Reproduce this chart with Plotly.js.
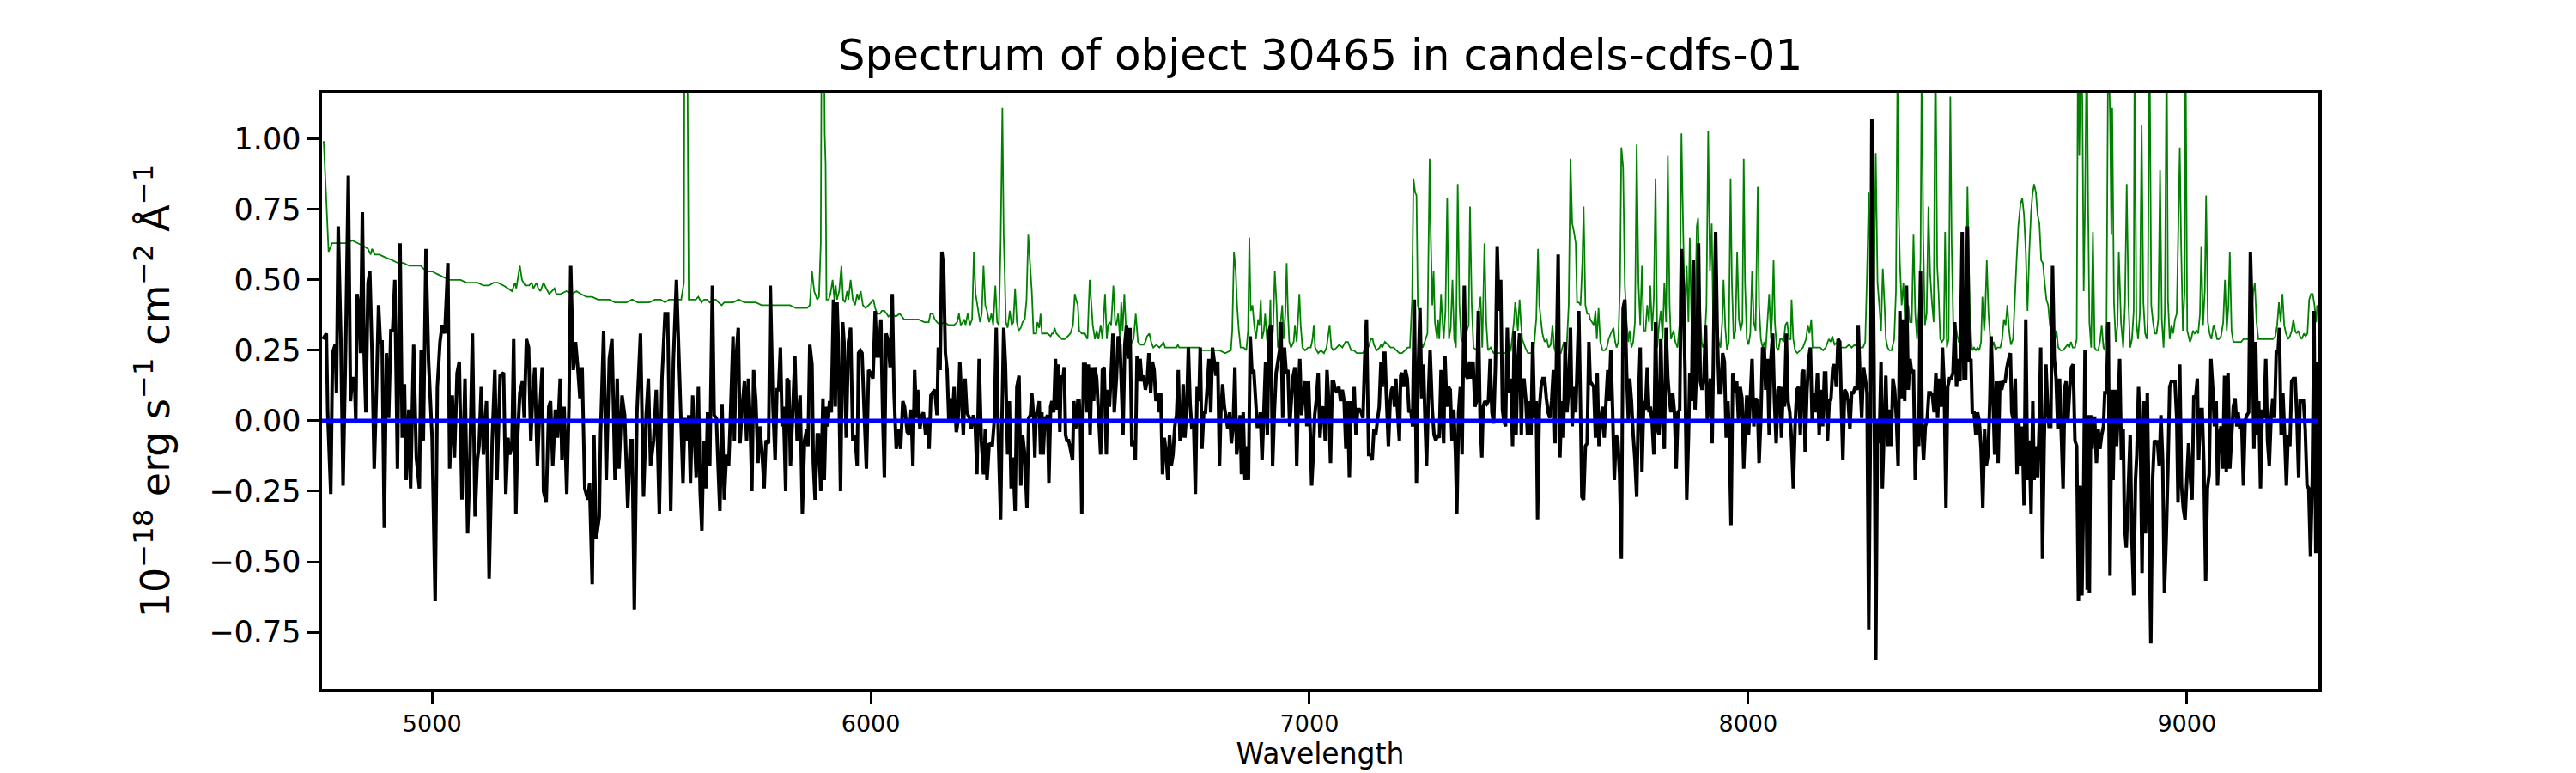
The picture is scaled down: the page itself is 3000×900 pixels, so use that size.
<!DOCTYPE html>
<html>
<head>
<meta charset="utf-8">
<script src="https://cdn.plot.ly/plotly-3.0.1.min.js"></script>
<style>html,body{margin:0;padding:0;background:#fff;}#chart{width:3000px;height:900px;}</style>
</head>
<body>
<div id="chart"></div>
<script>
// Object spectrum (black), wavelength in Angstrom, flux in 1e-18 erg/s/cm2/A
const fluxWave = [4751,4759,4762,4769,4773,4779,4782,4786,4792,4797,4803,4809,4814,4818,4823,4826,4829,4834,4837,4841,4845,4849,4854,4858,4863,4868,4873,4878,4882,4886,4891,4896,4901,4906,4910,4915,4921,4927,4932,4937,4941,4947,4951,4958,4964,4971,4975,4980,4986,4992,5000,5007,5012,5018,5023,5029,5036,5040,5046,5051,5057,5062,5068,5075,5081,5086,5092,5098,5103,5107,5112,5117,5124,5130,5137,5143,5148,5155,5163,5168,5173,5177,5182,5186,5191,5195,5200,5206,5210,5215,5220,5225,5229,5234,5240,5244,5251,5254,5260,5266,5270,5275,5281,5286,5292,5296,5301,5307,5312,5316,5322,5327,5332,5337,5342,5348,5355,5359,5365,5369,5374,5381,5384,5391,5397,5404,5410,5417,5422,5426,5433,5439,5446,5452,5456,5461,5467,5475,5482,5488,5493,5498,5505,5511,5518,5524,5531,5537,5544,5550,5557,
5572,5576,5580,5585,5589,5594,5598,5602,5607,5611,5615,5619,5624,5628,5633,5639,5643,5648,5652,5656,5661,5666,5671,5676,5680,5686,5689,5693,5698,5702,5706,5712,5717,5721,5725,5729,5733,5738,5743,5747,5752,5757,5761,5767,5771,5777,5782,5786,5790,5794,5798,5801,5806,5809,5813,5817,5822,5827,5832,5835,5839,5844,5849,5854,5857,5861,5866,5869,5873,5878,5881,5886,5891,5894,5898,5902,5906,5910,5915,5919,5923,5926,5931,5936,5939,5944,5949,5954,5959,5964,5969,5972,5976,5980,5985,5990,5995,5999,6005,6010,6014,6018,6023,6027,6031,6035,6040,6044,6049,6053,6058,6063,6068,6073,6077,6083,6088,6092,6096,6100,6104,6107,6112,6115,6120,6125,6130,6133,6137,6141,6146,6151,6154,6158,6162,6166,6170,6174,6178,6182,6186,6190,6195,6199,6203,6206,6211,6215,6219,6225,6229,6234,6238,6242,6247,6252,6257,6261,6265,6270,6277,6282,6286,6291,6296,6299,6303,6307,6312,6316,6320,6324,6329,6333,6338,6342,6346,6351,6356,6360,
6364,6367,6371,6374,6377,6380,6384,6387,6390,6393,6397,6400,6403,6406,6410,6413,6417,6421,6425,6428,6431,6434,6438,6441,6444,6447,6451,6455,6460,6463,6467,6472,6475,6478,6481,6485,6489,6493,6496,6500,6504,6508,6511,6515,6519,6524,6528,6532,6537,6540,6544,6548,6552,6555,6560,6564,6568,6571,6575,6579,6583,6587,6591,6595,6599,6603,6607,6611,6614,6618,6622,6626,6630,6634,6638,6642,6646,6650,6654,6658,6661,6665,6669,6673,6677,6681,6685,6689,6693,6697,6701,6705,6709,6712,6716,6720,6724,6728,6732,6736,6740,6744,6748,6751,6755,6759,6763,6767,6771,6775,6779,6783,6787,6791,6795,6798,6802,6806,6810,6814,6818,6822,6826,6830,6834,6838,6842,6845,6849,6853,6857,6861,6865,6869,6873,6877,6881,6885,6888,6892,6896,6900,6904,6908,6912,6916,6920,6924,6928,6932,6935,6939,6943,6947,6951,6955,6959,6963,6967,6971,6975,6978,6982,6986,6990,6994,6998,7002,7005,7008,7012,7016,7020,7024,7028,7032,7036,7040,7044,7048,7052,7055,7059,7063,7067,7071,7075,7079,7083,7087,7091,7095,7099,7102,7106,7110,7114,7118,7122,7126,7130,7135,7139,7143,7147,7151,7155,7159,7163,
7166,7169,7172,7175,7180,7184,7187,7190,7194,7197,7201,7205,7208,7211,7215,7219,7223,7227,7231,7235,7239,7244,7248,7252,7256,7260,7263,7267,7271,7275,7280,7284,7288,7292,7296,7300,7303,7306,7309,7313,7317,7321,7325,7329,7333,7336,7340,7344,7348,7353,7357,7361,7365,7369,7373,7377,7381,7385,7389,7393,7396,7400,7404,7408,7412,7416,7420,7424,7428,7432,7436,7440,7443,7447,7451,7455,7459,7463,7467,7471,7475,7479,7483,7485,7489,7493,7497,7501,7505,7509,7513,7517,7520,7524,7528,7532,7536,7540,7544,7548,7552,7556,7560,7563,7567,7571,7575,7579,7583,7587,7591,7595,7599,7603,7607,7610,7614,7618,7621,7625,7629,7633,7637,7640,7644,7648,7652,7656,7660,7664,7668,7672,7676,7680,7683,7687,7691,7695,7699,7703,7707,7711,7715,7719,7723,7727,7730,7734,7738,7742,7746,7750,7754,7758,7762,7766,7770,7774,7777,7781,7785,7789,7793,7797,7801,7805,7809,7813,7817,7821,7824,7828,7832,7836,7840,7844,7848,7852,7856,7860,7864,7867,7871,7875,7879,7883,7887,7891,7895,7899,7903,7907,7911,7914,7918,7922,7926,7930,7934,7938,7942,7946,7950,7954,7957,7961,7965,
7971,7974,7978,7982,7986,7990,7994,7997,8001,8005,8009,8013,8017,8021,8025,8029,8033,8037,8040,8044,8048,8052,8056,8060,8064,8068,8072,8076,8080,8083,8087,8091,8095,8099,8103,8107,8111,8115,8119,8123,8127,8130,8134,8138,8142,8146,8150,8154,8158,8162,8166,8170,8174,8177,8181,8185,8189,8193,8197,8201,8205,8209,8213,8216,8220,8224,8228,8232,8236,8240,8244,8248,8251,8256,8259,8263,8267,8271,8275,8279,8282,8287,8291,8295,8299,8303,8306,8310,8314,8318,8322,8326,8330,8334,8338,8342,8346,8350,8354,8357,8361,8365,8369,8373,8377,8381,8385,8389,8393,8397,8400,8404,8408,8412,8416,8420,8424,8428,8432,8436,8440,8443,8447,8451,8455,8459,8463,8467,8471,8475,8479,8483,8488,8492,8496,8500,8504,8508,8511,8515,8519,8523,8527,8531,8535,8539,8543,8547,8551,8554,8558,8562,8566,8570,8574,8578,8582,8586,8590,8594,8598,8601,8605,8609,8613,8617,8621,8625,8629,8633,8637,8641,8645,8649,8652,8656,8660,8664,8667,8671,8675,8679,8683,8686,8690,8694,8698,8702,8706,8710,8714,8718,8722,8725,8729,8733,8737,8741,8745,8749,8753,8757,8761,8765,8768,
8773,8776,8778,8781,8784,8786,8790,8794,8798,8802,8806,8810,8813,8817,8821,8825,8829,8832,8836,8840,8843,8847,8851,8855,8858,8862,8866,8871,8875,8879,8883,8886,8890,8894,8898,8902,8906,8910,8914,8918,8922,8926,8930,8933,8937,8941,8945,8949,8953,8957,8961,8965,8969,8973,8977,8980,8984,8988,8992,8996,9000,9004,9008,9012,9016,9020,9024,9027,9031,9035,9039,9043,9047,9051,9055,9059,9063,9067,9070,9074,9078,9082,9086,9090,9094,9098,9102,9106,9110,9114,9117,9121,9125,9129,9133,9137,9141,9145,9149,9153,9157,9161,9164,9168,9172,9176,9180,9184,9188,9192,9196,9200,9204,9208,9211,9215,9219,9223,9227,9231,9235,9239,9243,9247,9251,9255,9258,9262,9266,9270,9274,9278,9282,9286,9290,9294,9297];
const fluxValue = [0.29,0.31,0.03,-0.26,0.24,0.27,0.10,0.69,0.29,-0.23,0.26,0.87,0.07,0.15,0.15,0.00,0.45,0.39,0.24,0.74,0.24,0.03,0.49,0.53,0.24,-0.17,0.10,0.41,0.28,0.28,-0.38,0.24,0.01,0.32,0.32,0.50,-0.17,0.63,-0.06,0.13,-0.21,0.04,-0.24,0.27,-0.13,-0.24,0.25,-0.07,0.61,0.21,-0.06,-0.64,0.12,0.28,0.34,0.31,0.56,-0.17,0.09,-0.13,0.17,0.21,-0.28,0.15,-0.40,-0.15,0.31,-0.34,-0.14,-0.09,0.12,-0.12,0.07,-0.56,-0.07,0.18,-0.21,0.16,0.17,-0.26,-0.06,-0.12,-0.09,0.29,-0.33,-0.06,0.10,0.14,0.01,0.29,0.26,-0.07,0.08,0.19,-0.16,-0.01,0.19,-0.25,-0.29,0.05,0.07,-0.16,0.04,-0.06,0.15,-0.14,0.05,-0.26,0.05,0.55,0.18,0.28,0.19,0.08,0.19,-0.24,-0.28,-0.22,-0.58,-0.05,-0.42,-0.34,-0.05,0.32,-0.21,0.22,0.29,-0.21,0.15,-0.17,0.09,0.02,-0.31,-0.07,-0.07,-0.67,0.03,0.31,-0.27,0.02,0.15,-0.16,-0.07,0.11,-0.33,0.15,0.38,0.38,-0.32,0.21,0.50,
-0.22,0.01,-0.07,0.02,-0.22,0.09,-0.05,-0.20,0.12,-0.25,-0.39,-0.07,-0.24,0.03,-0.16,0.48,0.02,0.01,-0.16,-0.32,0.06,-0.28,-0.12,-0.16,0.01,0.30,-0.07,0.22,0.33,-0.08,0.03,0.14,-0.07,0.15,0.00,-0.25,0.18,0.07,-0.15,-0.02,-0.11,-0.24,-0.07,-0.08,0.48,0.05,-0.14,0.11,0.11,0.26,-0.02,0.05,-0.25,0.15,0.14,-0.16,0.03,0.23,-0.07,0.01,0.09,-0.33,-0.07,-0.03,-0.09,0.27,0.20,-0.15,-0.28,-0.05,-0.05,-0.25,0.08,-0.21,0.05,-0.02,0.07,0.03,0.43,0.05,0.42,0.28,-0.25,0.35,0.28,-0.06,0.28,0.33,-0.07,-0.05,-0.16,0.24,0.25,0.24,0.03,-0.17,0.18,0.17,0.15,0.39,0.23,0.23,0.36,0.03,-0.20,0.31,0.28,0.19,0.45,0.10,-0.10,-0.03,-0.10,0.07,0.05,-0.04,-0.05,0.04,-0.16,0.18,0.01,0.11,-0.03,0.01,0.03,-0.05,0.01,-0.10,0.09,0.10,0.11,0.02,0.26,0.18,0.60,0.55,0.24,0.18,0.00,0.08,0.00,0.12,-0.04,0.00,0.21,0.11,-0.05,0.15,0.03,0.01,-0.03,0.02,-0.01,-0.19,0.22,-0.07,-0.19,-0.03,-0.21,-0.08,-0.09,0.01,0.33,-0.07,-0.35,0.00,0.33,0.20,-0.12,0.07,-0.24,-0.13,-0.32,0.12,0.16,-0.23,-0.05,-0.12,-0.31,0.01,
0.02,0.10,0.02,-0.13,0.03,0.02,0.07,-0.12,0.03,-0.12,0.01,0.01,0.02,-0.22,0.05,0.07,0.03,0.22,0.04,0.20,-0.04,0.16,0.15,0.19,-0.05,-0.07,-0.07,-0.10,-0.14,0.07,-0.03,0.07,0.07,-0.03,-0.33,0.20,0.20,0.03,0.20,-0.05,0.19,0.07,0.19,0.15,0.03,-0.12,0.18,0.19,-0.12,0.11,0.05,0.17,0.31,0.03,0.15,0.30,0.27,0.14,-0.05,0.27,0.34,0.22,0.33,-0.09,-0.07,-0.14,0.23,0.14,0.22,0.14,0.16,0.11,0.14,0.24,0.10,0.21,0.18,0.07,0.10,0.03,0.10,-0.19,-0.06,-0.11,-0.21,-0.05,-0.16,-0.12,-0.02,0.02,0.18,-0.07,-0.05,0.13,-0.06,0.03,0.26,0.06,-0.03,-0.01,-0.26,0.12,0.07,0.26,-0.10,0.03,0.03,0.12,0.22,0.03,0.26,0.21,0.16,0.21,-0.16,0.03,0.13,0.05,0.01,-0.03,0.03,-0.08,-0.02,0.19,-0.12,-0.07,0.02,-0.19,0.03,-0.21,-0.09,-0.21,0.30,0.17,0.18,0.08,-0.02,-0.02,0.03,-0.14,0.03,0.21,-0.05,0.32,0.34,-0.16,0.03,0.17,0.21,0.25,0.35,0.01,0.26,0.17,0.18,-0.02,0.08,0.16,0.19,-0.16,0.10,0.22,0.02,0.10,0.14,-0.02,0.14,-0.05,-0.23,-0.14,0.02,0.08,0.17,-0.06,0.04,0.05,-0.07,0.18,0.07,-0.15,0.14,0.14,0.11,0.10,0.12,0.07,0.11,0.07,-0.10,0.07,-0.20,0.07,0.00,0.12,-0.05,0.04,0.04,0.03,0.01,0.22,0.36,-0.12,-0.12,-0.14,-0.03,-0.05,0.00,0.05,0.21,
0.12,0.24,0.24,0.10,-0.09,0.07,0.11,0.12,0.05,0.15,0.03,-0.07,0.16,0.17,0.12,0.18,0.15,0.03,0.04,-0.02,0.43,-0.22,0.18,0.40,0.08,0.20,0.03,-0.16,0.08,0.25,0.04,-0.05,-0.07,-0.05,-0.06,0.18,0.03,-0.08,0.23,0.05,0.12,0.11,-0.07,0.04,-0.12,-0.33,0.03,0.12,-0.12,0.48,0.16,0.15,0.21,0.15,0.21,0.05,0.07,0.39,0.01,-0.13,0.05,0.07,0.06,0.07,0.22,0.03,-0.01,0.20,0.62,0.39,0.50,0.04,0.00,-0.02,0.33,0.10,0.15,-0.09,0.32,-0.05,0.21,0.31,-0.05,0.10,0.15,0.08,-0.05,0.07,-0.05,0.28,0.01,0.07,-0.35,0.04,0.12,0.15,0.15,0.08,0.03,0.01,0.07,0.18,-0.08,0.22,0.59,-0.13,0.07,-0.06,0.28,0.03,0.11,0.33,-0.02,0.12,0.03,0.18,0.39,0.04,-0.27,-0.28,-0.09,-0.08,0.28,0.14,0.13,0.12,-0.06,0.17,-0.09,0.00,0.05,-0.06,0.07,0.18,0.07,0.25,0.04,-0.21,-0.05,-0.07,-0.19,-0.49,0.40,0.43,0.17,0.00,0.15,0.07,-0.05,-0.14,-0.27,0.07,0.26,-0.18,0.07,0.04,0.19,0.03,0.05,0.00,-0.12,0.35,-0.03,-0.05,0.29,0.00,-0.10,0.33,0.15,0.07,0.03,0.10,0.03,-0.17,0.03,0.04,0.61,0.48,0.19,-0.28,-0.06,0.17,0.07,0.57,0.04,0.21,0.63,0.14,0.11,0.15,0.34,0.00,0.07,0.15,-0.08,0.35,0.67,0.29,0.10,0.10,0.24,0.21,-0.06,0.07,-0.05,-0.37,0.17,
0.10,0.14,0.00,0.12,0.08,-0.17,0.00,0.09,-0.05,0.08,0.22,-0.02,0.08,0.07,-0.15,0.01,0.26,0.25,0.11,0.22,-0.05,0.22,0.31,0.07,-0.08,0.11,0.12,-0.06,0.12,0.05,0.31,0.07,0.03,-0.07,-0.24,-0.02,0.11,0.12,-0.05,0.17,0.18,-0.11,0.10,0.22,0.26,0.00,0.10,0.03,0.17,-0.05,0.11,-0.02,0.17,0.17,-0.07,0.07,0.08,0.19,0.20,0.12,0.29,0.28,0.03,-0.14,0.11,0.10,0.07,-0.03,0.10,0.10,0.12,0.11,0.34,0.11,0.01,0.19,0.15,0.10,-0.74,0.01,1.07,0.21,-0.85,0.00,-0.08,0.21,-0.24,-0.03,0.16,-0.09,0.04,-0.09,0.15,0.11,0.01,-0.16,0.39,0.08,0.36,0.07,0.48,0.11,0.22,0.17,0.18,-0.21,0.00,-0.09,0.53,-0.05,-0.14,-0.02,0.00,0.10,0.10,0.09,0.03,0.17,0.01,0.15,0.05,0.26,0.12,-0.31,0.12,0.15,0.15,0.17,0.35,0.12,0.22,0.14,0.67,0.15,0.15,0.69,0.21,0.22,0.03,0.03,-0.05,0.03,0.00,-0.10,-0.31,-0.03,-0.16,-0.12,0.07,0.30,0.10,-0.12,0.14,-0.15,0.14,0.11,0.14,0.14,0.19,0.22,0.24,0.03,0.00,0.15,-0.19,0.00,-0.16,-0.02,-0.30,0.36,-0.21,-0.07,-0.33,0.07,-0.21,-0.09,-0.20,0.00,0.26,-0.49,-0.07,0.20,0.04,-0.02,-0.02,0.55,0.22,0.15,-0.03,0.15,-0.05,-0.24,0.12,0.14,0.00,0.11,0.19,0.20,-0.07,-0.09,-0.64,-0.23,-0.62,-0.23,0.25,
-0.60,0.02,-0.61,0.02,-0.10,0.01,0.01,-0.15,-0.03,-0.10,-0.05,-0.02,0.10,0.10,0.35,-0.55,0.11,-0.21,0.11,-0.09,0.01,0.22,-0.14,-0.03,-0.37,-0.45,-0.27,-0.05,-0.43,-0.62,-0.21,-0.12,0.12,-0.05,-0.54,0.07,-0.40,0.10,-0.35,-0.79,-0.21,-0.07,-0.08,-0.07,-0.16,0.02,-0.14,-0.61,-0.42,-0.17,0.12,0.14,0.14,0.14,0.01,-0.29,0.20,-0.23,-0.31,-0.35,-0.21,-0.08,-0.20,-0.28,0.09,0.08,0.15,-0.14,0.04,0.04,-0.16,-0.57,-0.24,-0.19,0.22,0.12,-0.02,0.07,-0.23,-0.05,-0.02,-0.17,0.16,-0.18,0.17,-0.17,-0.06,0.05,0.08,-0.02,0.03,-0.03,0.00,-0.23,0.00,0.02,0.03,0.60,0.36,-0.10,0.28,-0.05,0.07,-0.24,0.04,0.01,0.22,-0.07,-0.16,0.01,0.08,0.01,0.25,0.24,0.33,-0.05,0.10,-0.05,-0.23,-0.05,-0.09,0.14,0.15,0.15,0.01,-0.20,0.07,0.07,0.07,-0.03,-0.23,-0.24,-0.48,-0.21,0.39,-0.47,0.21];

// Sky / noise spectrum (green)
const skyWave = [4751,4753,4764,4772,4792,4805,4818,4831,4844,4854,4860,4863,4870,4880,4893,4909,4922,4935,4948,4961,4974,4987,5000,5013,5026,5039,5052,5065,5078,5091,5104,5117,5130,5140,5150,5163,5173,5182,5189,5192,5195,5200,5205,5212,5221,5227,5231,5238,5242,5247,5254,5260,5267,5273,5279,5283,5293,5306,5319,5329,5339,5352,5365,5378,5391,5404,5417,5430,5443,5456,5469,5482,5495,5508,5521,5531,5540,5550,5557,
5568,5574,5576,5581,5585,5588,5594,5601,5607,5614,5620,5627,5633,5640,5647,5653,5660,5666,5673,5686,5699,5712,5725,5738,5751,5764,5777,5790,5803,5816,5829,5842,5855,5861,5866,5871,5878,5882,5886,5889,5893,5895,5897,5899,5904,5908,5913,5917,5920,5923,5928,5933,5937,5941,5946,5949,5954,5959,5964,5969,5972,5977,5982,5988,5995,6001,6006,6010,6014,6021,6025,6031,6036,6040,6047,6057,6066,6076,6086,6096,6109,6122,6132,6136,6141,6146,6151,6158,6167,6177,6184,6190,6197,6201,6205,6210,6213,6216,6221,6226,6231,6235,6239,6244,6249,6253,6257,6261,6265,6270,6275,6279,6284,6288,6292,6296,6300,6303,6305,6308,6312,6317,6321,6325,6329,6333,6337,6342,6346,6351,6355,6359,
6367,6371,6377,6380,6384,6387,6390,6397,6403,6410,6413,6416,6419,6423,6429,6436,6442,6449,6455,6461,6465,6468,6472,6475,6481,6488,6494,6499,6503,6506,6511,6515,6519,6524,6528,6534,6538,6541,6545,6548,6553,6557,6560,6564,6568,6571,6574,6578,6582,6586,6592,6599,6604,6609,6615,6622,6626,6630,6635,6639,6644,6651,6658,6664,6667,6671,6677,6684,6690,6697,6700,6703,6710,6716,6723,6729,6736,6742,6749,6755,6768,6781,6795,6808,6821,6824,6828,6832,6835,6839,6843,6850,6856,6860,6863,6866,6870,6874,6878,6883,6886,6889,6892,6896,6899,6903,6907,6911,6913,6917,6921,6925,6928,6932,6935,6938,6941,6945,6948,6951,6954,6958,6964,6967,6971,6974,6977,6980,6984,6990,6997,7003,7007,7010,7013,7020,7026,7033,7039,7046,7050,7055,7062,7068,7075,7082,7088,7095,7101,7108,7114,7121,7127,7134,7140,7144,7147,7153,7160,7163,
7166,7172,7179,7185,7192,7198,7205,7211,7218,7224,7229,7234,7237,7241,7244,7247,7250,7254,7258,7263,7269,7274,7276,7280,7283,7286,7291,7293,7296,7300,7303,7306,7310,7314,7318,7322,7326,7330,7334,7338,7342,7346,7350,7353,7359,7363,7366,7370,7374,7381,7386,7390,7394,7399,7403,7407,7413,7420,7426,7433,7440,7446,7453,7459,7466,7469,7472,7475,7479,7482,7485,7492,7498,7505,7511,7517,7521,7524,7531,7536,7541,7545,7550,7554,7558,7562,7567,7573,7580,7586,7591,7595,7599,7603,7607,7610,7614,7618,7622,7625,7629,7633,7637,7640,7644,7648,7652,7655,7659,7663,7668,7673,7678,7682,7687,7693,7697,7700,7704,7708,7711,7715,7719,7723,7727,7730,7734,7738,7742,7746,7750,7754,7758,7762,7766,7770,7774,7777,7781,7785,7789,7793,7797,7801,7805,7809,7813,7817,7821,7824,7830,7834,7839,7844,7848,7852,7856,7860,7864,7867,7871,7875,7879,7883,7886,7890,7894,7897,7901,7905,7909,7913,7917,7921,7925,7929,7933,7937,7941,7944,7948,7952,7956,7960,
7963,7967,7971,7975,7979,7983,7987,7990,7993,7997,8001,8005,8009,8013,8017,8022,8025,8029,8033,8037,8040,8044,8048,8052,8055,8058,8061,8065,8069,8073,8077,8081,8085,8089,8093,8097,8099,8103,8107,8112,8119,8125,8132,8136,8140,8144,8147,8153,8158,8164,8171,8177,8184,8188,8192,8197,8204,8210,8217,8223,8230,8236,8243,8249,8256,8262,8267,8271,8275,8279,8283,8287,8291,8295,8299,8303,8307,8311,8314,8318,8322,8327,8333,8337,8341,8343,8346,8350,8354,8358,8361,8365,8369,8373,8377,8381,8385,8389,8393,8396,8399,8403,8407,8411,8415,8419,8423,8427,8431,8434,8438,8442,8446,8449,8453,8457,8461,8464,8468,8472,8476,8480,8484,8488,8492,8496,8500,8505,8509,8511,8515,8519,8523,8527,8531,8534,8538,8540,8544,8548,8552,8556,8560,8564,8568,8571,8575,8579,8583,8587,8591,8595,8599,8604,8608,8612,8616,8621,8625,8629,8633,8637,8641,8645,8648,8652,8656,8660,8664,8668,8672,8676,8680,8684,8688,8691,8695,8699,8703,8707,8712,8718,8723,8728,8732,8736,8740,8745,8749,
8752,8755,8759,8762,8765,8768,8772,8775,8778,8782,8786,8790,8794,8798,8802,8806,8810,8813,8817,8821,8825,8828,8830,8834,8838,8842,8845,8850,8855,8859,8863,8867,8871,8875,8879,8881,8885,8889,8893,8897,8901,8905,8909,8911,8915,8919,8923,8927,8931,8935,8939,8943,8947,8950,8954,8957,8961,8965,8969,8973,8977,8980,8984,8987,8991,8995,8997,9001,9007,9010,9014,9018,9022,9026,9030,9033,9037,9041,9044,9048,9052,9056,9061,9065,9069,9073,9078,9083,9087,9091,9095,9098,9102,9106,9111,9117,9124,9129,9134,9140,9144,9147,9151,9155,9159,9163,9170,9176,9183,9189,9196,9202,9206,9210,9214,9218,9222,9226,9231,9235,9239,9243,9247,9250,9254,9258,9262,9267,9271,9275,9279,9283,9287,9291,9295,9297];
const skyValue = [0.99,0.99,0.60,0.63,0.63,0.63,0.64,0.63,0.62,0.61,0.59,0.61,0.59,0.59,0.58,0.57,0.56,0.56,0.55,0.55,0.55,0.53,0.53,0.52,0.51,0.50,0.50,0.50,0.49,0.49,0.49,0.48,0.48,0.49,0.49,0.48,0.47,0.46,0.49,0.47,0.50,0.55,0.50,0.48,0.48,0.49,0.47,0.49,0.47,0.46,0.49,0.47,0.45,0.46,0.47,0.45,0.45,0.46,0.45,0.46,0.45,0.44,0.44,0.43,0.43,0.43,0.42,0.42,0.42,0.43,0.42,0.42,0.42,0.43,0.43,0.42,0.43,0.43,0.43,
0.43,0.49,1.80,1.60,0.43,0.43,0.43,0.43,0.44,0.42,0.43,0.43,0.42,0.43,0.43,0.42,0.41,0.42,0.42,0.42,0.43,0.42,0.42,0.42,0.41,0.41,0.41,0.41,0.41,0.41,0.40,0.40,0.40,0.41,0.53,0.46,0.43,0.44,0.63,1.80,1.50,1.02,0.91,0.43,0.43,0.45,0.50,0.43,0.48,0.43,0.46,0.55,0.43,0.42,0.46,0.43,0.50,0.43,0.41,0.45,0.43,0.46,0.41,0.40,0.41,0.42,0.43,0.40,0.38,0.38,0.39,0.39,0.38,0.37,0.38,0.37,0.38,0.36,0.36,0.36,0.36,0.35,0.35,0.38,0.38,0.36,0.35,0.34,0.35,0.34,0.34,0.34,0.35,0.38,0.34,0.35,0.36,0.34,0.38,0.34,0.36,0.60,0.45,0.40,0.35,0.38,0.55,0.41,0.39,0.35,0.38,0.34,0.48,0.35,0.34,0.63,1.11,0.66,0.55,0.35,0.33,0.39,0.34,0.35,0.47,0.35,0.32,0.33,0.35,0.36,0.43,0.66,
0.46,0.31,0.31,0.35,0.33,0.38,0.31,0.31,0.31,0.30,0.31,0.31,0.33,0.31,0.30,0.29,0.29,0.30,0.31,0.34,0.45,0.43,0.41,0.32,0.31,0.31,0.29,0.50,0.41,0.34,0.29,0.32,0.29,0.34,0.29,0.45,0.29,0.34,0.35,0.34,0.48,0.35,0.34,0.38,0.29,0.42,0.32,0.45,0.32,0.29,0.27,0.29,0.38,0.28,0.27,0.27,0.28,0.30,0.31,0.28,0.26,0.27,0.26,0.27,0.28,0.26,0.26,0.26,0.26,0.26,0.27,0.26,0.26,0.26,0.26,0.26,0.26,0.26,0.26,0.25,0.25,0.25,0.25,0.24,0.25,0.32,0.60,0.53,0.41,0.32,0.26,0.26,0.25,0.32,0.65,0.39,0.41,0.34,0.29,0.36,0.34,0.43,0.29,0.32,0.38,0.29,0.26,0.43,0.26,0.32,0.53,0.41,0.26,0.29,0.36,0.41,0.29,0.38,0.56,0.38,0.28,0.26,0.28,0.34,0.28,0.36,0.45,0.34,0.26,0.25,0.26,0.26,0.29,0.34,0.26,0.24,0.25,0.24,0.26,0.34,0.26,0.25,0.26,0.27,0.26,0.28,0.28,0.25,0.25,0.24,0.24,0.24,0.25,0.26,0.29,0.29,0.27,0.25,0.26,0.27,
0.26,0.28,0.27,0.26,0.26,0.25,0.24,0.24,0.25,0.26,0.26,0.43,0.86,0.81,0.80,0.41,0.39,0.28,0.26,0.28,0.31,0.93,0.70,0.41,0.53,0.35,0.29,0.36,0.29,0.45,0.36,0.29,0.39,0.79,0.29,0.33,0.50,0.29,0.26,0.84,0.41,0.29,0.28,0.32,0.32,0.34,0.76,0.41,0.26,0.25,0.39,0.44,0.26,0.63,0.35,0.25,0.26,0.24,0.24,0.24,0.24,0.24,0.24,0.25,0.35,0.42,0.38,0.32,0.43,0.35,0.29,0.26,0.24,0.24,0.25,0.36,0.61,0.41,0.31,0.28,0.29,0.26,0.27,0.34,0.26,0.24,0.24,0.24,0.28,0.25,0.41,0.93,0.70,0.67,0.63,0.42,0.42,0.41,0.56,0.76,0.41,0.38,0.38,0.36,0.35,0.34,0.39,0.29,0.40,0.28,0.25,0.25,0.26,0.29,0.31,0.33,0.28,0.26,0.28,0.49,0.97,0.90,0.48,0.35,0.28,0.32,0.26,0.28,0.35,0.98,0.49,0.34,0.55,0.32,0.32,0.41,0.35,0.48,0.32,0.43,0.86,0.26,0.34,0.39,0.29,0.49,0.35,0.94,0.41,0.29,0.32,0.28,0.26,0.35,1.02,0.67,0.36,0.55,0.35,0.65,0.34,0.29,0.35,0.69,0.72,0.42,0.28,0.26,0.28,0.41,1.03,0.53,0.70,0.29,0.67,0.36,0.28,0.26,0.35,0.50,0.33,0.25,0.28,0.86,
0.49,0.29,0.32,0.60,0.36,0.32,0.35,0.93,0.49,0.29,0.27,0.31,0.53,0.35,0.32,0.83,0.41,0.29,0.26,0.28,0.25,0.35,0.45,0.29,0.38,0.57,0.35,0.26,0.25,0.29,0.29,0.28,0.34,0.35,0.29,0.29,0.43,0.29,0.25,0.24,0.25,0.26,0.29,0.34,0.31,0.36,0.26,0.26,0.26,0.26,0.25,0.26,0.29,0.28,0.30,0.27,0.28,0.26,0.26,0.26,0.27,0.26,0.27,0.26,0.26,0.26,0.28,0.52,0.81,0.38,0.46,0.50,0.95,0.49,0.41,0.32,0.54,0.41,0.29,0.26,0.25,0.25,0.29,0.46,1.40,0.77,0.56,0.41,0.49,0.34,0.38,0.41,0.35,0.35,0.66,0.38,0.29,0.39,0.57,1.40,0.66,0.34,0.38,0.76,0.52,0.42,0.35,1.40,0.55,0.46,0.29,0.28,0.29,0.67,0.26,0.29,1.15,0.63,0.32,0.35,0.31,0.28,0.28,0.26,0.29,0.35,0.83,0.41,0.28,0.25,0.26,0.25,0.26,0.25,0.28,0.44,0.32,0.36,0.57,0.38,0.29,0.26,0.28,0.25,0.26,0.26,0.26,0.29,0.36,0.34,0.41,0.32,0.27,0.29,0.43,0.57,0.69,0.77,0.79,0.73,0.60,0.39,0.60,0.74,0.80,0.84,0.81,0.73,0.70,0.57,0.56,0.49,0.43,0.41,0.34,0.32,0.35,0.28,0.32,0.26,0.25,0.25,0.26,0.27,0.26,0.28,0.26,0.26,0.29,
1.40,0.94,1.40,1.12,0.46,0.77,1.40,0.77,0.35,0.26,0.67,0.26,0.25,0.25,0.28,0.34,0.26,0.25,0.35,1.40,1.08,0.66,1.11,0.42,0.28,0.34,0.60,0.35,0.26,0.41,0.84,0.42,0.26,0.29,0.39,1.40,0.35,0.29,0.38,1.05,0.42,0.31,0.29,0.36,1.40,0.41,0.35,0.31,0.31,0.36,0.89,0.36,0.26,0.39,1.40,0.43,0.29,0.34,0.31,0.36,0.38,0.63,0.97,0.63,0.32,0.46,1.40,0.32,0.28,0.29,0.32,0.31,0.32,0.31,0.38,0.62,0.34,0.46,0.80,0.35,0.31,0.29,0.34,0.32,0.29,0.29,0.30,0.35,0.50,0.32,0.41,0.60,0.32,0.28,0.28,0.28,0.28,0.29,0.29,0.29,0.29,0.35,0.45,0.49,0.35,0.29,0.29,0.29,0.29,0.29,0.29,0.30,0.34,0.42,0.35,0.45,0.34,0.31,0.29,0.30,0.32,0.36,0.32,0.31,0.32,0.30,0.29,0.31,0.30,0.31,0.43,0.45,0.45,0.41,0.35,0.41];

// Zero level (blue)
const zeroWave = [4749, 9300];
const zeroValue = [0, 0];

// Axis ticks
const xTickVals = [5000, 6000, 7000, 8000, 9000];
const xTickText = ['5000', '6000', '7000', '8000', '9000'];
const yTickVals = [-0.75, -0.5, -0.25, 0, 0.25, 0.5, 0.75, 1.0];
const yTickText = ['\u22120.75', '\u22120.50', '\u22120.25', '0.00', '0.25', '0.50', '0.75', '1.00'];

const FONT = 'DejaVu Sans, Liberation Sans, sans-serif';

const traces = [
  {x: skyWave, y: skyValue, type: 'scatter', mode: 'lines',
   line: {color: '#008000', width: 1.8, simplify: false}, hoverinfo: 'skip'},
  {x: fluxWave, y: fluxValue, type: 'scatter', mode: 'lines',
   line: {color: '#000000', width: 4, simplify: false}, hoverinfo: 'skip'},
  {x: zeroWave, y: zeroValue, type: 'scatter', mode: 'lines',
   line: {color: '#0000ff', width: 5}, hoverinfo: 'skip'}
];

const layout = {
  width: 3000, height: 900,
  paper_bgcolor: '#ffffff', plot_bgcolor: '#ffffff',
  showlegend: false,
  margin: {l: 375, r: 300, t: 108, b: 98, pad: 0},
  font: {family: FONT, color: '#000000'},
  title: {
    text: 'Spectrum of object 30465 in candels-cdfs-01',
    font: {family: FONT, size: 50, color: '#000000'},
    x: 0.5, xref: 'paper', xanchor: 'center',
    y: 1 - 81 / 900, yref: 'container', yanchor: 'bottom'
  },
  xaxis: {
    range: [4749, 9300],
    tickmode: 'array', tickvals: xTickVals, ticktext: xTickText,
    ticks: 'outside', ticklen: 14, tickwidth: 3, tickcolor: '#000000',
    tickfont: {family: FONT, size: 27, color: '#000000'},
    showline: true, mirror: true, linecolor: '#000000', linewidth: 3.5,
    showgrid: false, zeroline: false,
    title: {text: 'Wavelength', font: {family: FONT, size: 33, color: '#000000'}, standoff: 4}
  },
  yaxis: {
    range: [-0.951, 1.164],
    tickmode: 'array', tickvals: yTickVals, ticktext: yTickText,
    ticks: 'outside', ticklen: 14, tickwidth: 3, tickcolor: '#000000',
    tickfont: {family: FONT, size: 35, color: '#000000'},
    showline: true, mirror: true, linecolor: '#000000', linewidth: 3.5,
    showgrid: false, zeroline: false,
    title: {text: '10<sup>\u221218</sup> erg s<sup>\u22121</sup> cm<sup>\u22122</sup> \u00c5<sup>\u22121</sup>',
            font: {family: FONT, size: 46, color: '#000000'}, standoff: 32}
  }
};

Plotly.newPlot('chart', traces, layout, {staticPlot: true, displayModeBar: false});
</script>
</body>
</html>
